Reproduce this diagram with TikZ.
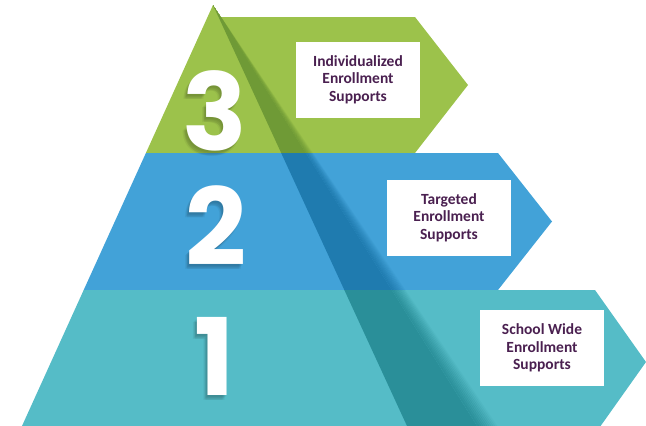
\documentclass[tikz,border=0pt]{standalone}
\usepackage{fontspec}
\setmainfont{Carlito}
\newfontfamily\numfont{Poppins}
\definecolor{gband}{HTML}{9CC24B}
\definecolor{gdark}{HTML}{6F9A36}
\definecolor{bband}{HTML}{42A2D8}
\definecolor{bdark}{HTML}{1F7BAF}
\definecolor{tband}{HTML}{55BCC7}
\definecolor{tdark}{HTML}{2A8F99}
\definecolor{txt}{HTML}{4A2050}
\tikzset{
  box/.style={fill=white, minimum width=124pt, minimum height=76pt, inner sep=0pt,
    align=center, text=txt, font=\bfseries\fontsize{15.5}{17.5}\selectfont},
  digit/.style={inner sep=0pt, text=white, font=\numfont\bfseries\fontsize{107}{107}\selectfont},
  digitshadow/.style={inner sep=0pt, text=black, text opacity=0.05, font=\numfont\bfseries\fontsize{107}{107}\selectfont}
}
\newcommand{\darkwedge}[1]{%
  \fill[#1] (213,5) -- (407,426) -- (477,426) -- cycle;
  \foreach \i [evaluate=\i as \op using {1-\i/11}] in {1,...,10}{
    \fill[#1, opacity=\op] (213,5) -- ({477+2*(\i-1)},426) -- ({477+2*\i+0.3},426) -- cycle;
  }
}
\begin{document}
\begin{tikzpicture}[x=1pt,y=-1pt]
\useasboundingbox (0,0) rectangle (646,426);
\def\greenpath{(213,5) -- (221,17) -- (415,17) -- (468,85) -- (415,153) -- (145.9,153) -- cycle}
\def\bluepath{(145.9,153) -- (498,153) -- (552,221.5) -- (498,290) -- (83.7,290) -- cycle}
\def\tealpath{(83.7,290) -- (595,290) -- (646,362) -- (600.6,426) -- (22,426) -- cycle}
\fill[gband] \greenpath;
\fill[bband] \bluepath;
\fill[tband] \tealpath;
\begin{scope}
  \clip \greenpath;
  \darkwedge{gdark}
\end{scope}
\begin{scope}
  \clip \bluepath;
  \darkwedge{bdark}
\end{scope}
\begin{scope}
  \clip \tealpath;
  \darkwedge{tdark}
\end{scope}
% soft digit shadows
\foreach \dx/\dy in {-1/2,-2/3,-3/4,-2/5,-4/5} {
  \node[digitshadow] at ({215+\dx},{111+\dy}) {3};
  \node[digitshadow] at ({216+\dx},{226+\dy}) {2};
  \node[digitshadow] at ({215+\dx},{356+\dy}) {1};
}
\node[digit] (n3) at (215,111) {3};
\node[digit] (n2) at (216,226) {2};
\node[digit] (n1) at (215,356) {1};
\node[box] (b3) at (358,79.5) {Individualized\\Enrollment\\Supports};
\node[box] (b2) at (449,217.5) {Targeted\\Enrollment\\Supports};
\node[box] (b1) at (542,348) {School Wide\\Enrollment\\Supports};
\end{tikzpicture}
\end{document}
